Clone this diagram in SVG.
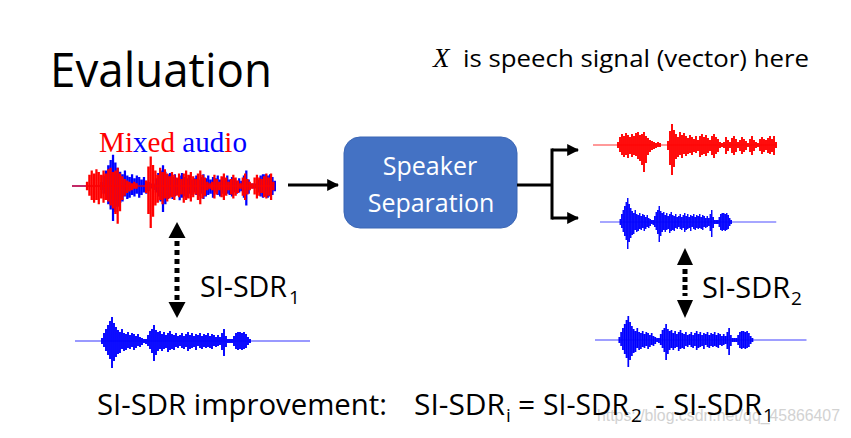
<svg xmlns="http://www.w3.org/2000/svg" xmlns:xlink="http://www.w3.org/1999/xlink" width="851" height="438" viewBox="0 0 851 438">
<style>
.sans{font-family:"Open Sans","Noto Sans","Liberation Sans",sans-serif;fill:#000}
.wb{stroke:#0000FF;fill:none}
.wr{stroke:#FF0000;fill:none}
.bars{stroke-width:1.9}
.base{stroke-width:1;opacity:0.8}
.conn{stroke:#000;stroke-width:3;fill:none}
.dots{stroke:#000;stroke-width:5;stroke-dasharray:5 4;fill:none}
.head{fill:#000}
</style>
<defs>
<marker id="ah" viewBox="0 0 10 10" markerUnits="userSpaceOnUse" markerWidth="12" markerHeight="12" refX="9" refY="5" orient="auto">
<path d="M0,0 L10,5 L0,10 z" fill="#000"/>
</marker>
<g id="wBlue" class="wb">
<path class="base" d="M0,0H235"/>
<path class="bars" d="M27,-3V3M29,-8V6M31,-12V10M33,-16V14M35,-20V18M37,-24V27M39,-18V20M41,-14V16M43,-11V13M45,-9V12M47,-12V8M49,-8V10M51,-7V9M53,-9V7M55,-6V8M57,-8V6M59,-7V9M61,-5V7M63,-7V5M65,-4V6M67,-3V4M69,-2V2M71,-2V3M73,-6V5M75,-10V8M77,-12V12M79,-16V20M81,-11V14M83,-9V10M85,-10V8M87,-7V10M89,-9V8M91,-6V7M93,-8V11M95,-10V9M97,-7V8M99,-6V9M101,-8V6M103,-5V7M105,-6V5M107,-8V7M109,-5V8M111,-7V6M113,-9V10M115,-6V8M117,-8V7M119,-5V6M121,-7V9M123,-6V5M125,-8V7M127,-5V8M129,-7V6M131,-6V7M133,-8V6M135,-5V7M137,-7V8M139,-6V5M141,-4V6M143,-6V5M145,-4V4M147,-8V9M149,-12V15M151,-5V6M153,-2V2M155,-2V2M157,-2V2M159,-5V5M161,-8V8M163,-9V9M165,-9V8M167,-8V9M169,-9V8M171,-7V7M173,-4V4M175,-2V2"/>
</g>
<g id="wRed" class="wr">
<path class="base" d="M0,0H183"/>
<path class="bars" d="M25,-3V3M27,-8V7M29,-11V10M31,-9V12M33,-12V10M35,-10V13M37,-8V9M39,-11V12M41,-9V10M43,-12V11M45,-13V14M47,-10V16M49,-11V20M51,-13V27M53,-9V18M55,-7V10M57,-5V7M59,-4V5M61,-3V4M63,-2V3M65,-3V2M67,-2V2M75,-4V5M77,-14V20M79,-21V30M81,-15V22M83,-11V14M85,-8V12M87,-13V10M89,-10V13M91,-12V9M93,-9V11M95,-7V9M97,-10V8M99,-8V10M101,-6V7M103,-9V8M105,-5V6M107,-9V12M109,-11V10M111,-8V9M113,-10V11M115,-7V8M117,-5V6M119,-9V10M121,-11V13M123,-8V9M125,-6V7M127,-3V3M129,-2V2M131,-3V3M133,-8V9M135,-5V6M137,-3V3M139,-7V8M141,-9V10M143,-6V7M145,-3V3M147,-5V6M149,-8V9M151,-6V7M153,-4V5M155,-2V2M157,-6V7M159,-9V10M161,-5V6M163,-3V3M165,-2V2M167,-6V6M169,-8V9M171,-6V7M173,-5V5M175,-7V8M177,-9V9M179,-6V7M181,-9V10M183,-3V3"/>
</g>
<clipPath id="mixClip"><rect x="72" y="130" width="204" height="110"/></clipPath>
</defs>
<rect width="851" height="438" fill="#fff"/>

<g id="watermark">
<text x="597" y="421" font-family="Liberation Sans,Arial,sans-serif" font-size="17" fill="#d2d2d2" textLength="243" lengthAdjust="spacingAndGlyphs">https://blog.csdn.net/qq_45866407</text>
</g>

<g id="title">
<text class="sans" x="50" y="87" font-size="48" textLength="222" lengthAdjust="spacingAndGlyphs">Evaluation</text>
</g>
<g id="note">
<text x="433" y="67" font-family="Liberation Serif,serif" font-style="italic" font-size="27">X</text>
<text class="sans" x="463" y="67" font-size="23" textLength="346" lengthAdjust="spacingAndGlyphs">is speech signal (vector) here</text>
</g>

<g id="mixed-audio">
<text x="99" y="152" font-family="Liberation Serif,serif" font-size="29" textLength="148" lengthAdjust="spacingAndGlyphs"><tspan fill="#FF0000">Mi</tspan><tspan fill="#0000FF">x</tspan><tspan fill="#FF0000">ed</tspan> <tspan fill="#0000FF">aud</tspan><tspan fill="#FF0000">i</tspan><tspan fill="#0000FF">o</tspan></text>
<g clip-path="url(#mixClip)">
<use xlink:href="#wBlue" href="#wBlue" transform="translate(69,186) scale(1.19,1.3)"/>
<use xlink:href="#wRed" href="#wRed" transform="translate(57.5,186) scale(1.18,1.4)"/>
</g>
</g>

<g id="speaker-separation">
<rect x="344" y="137" width="173" height="91" rx="16" ry="16" fill="#4472C4" stroke="#3B66B5" stroke-width="1"/>
<text class="sans" x="430" y="175" font-size="25" text-anchor="middle" style="fill:#fff">Speaker</text>
<text class="sans" x="431" y="212" font-size="25" text-anchor="middle" style="fill:#fff">Separation</text>
</g>

<g id="output-red">
<use xlink:href="#wRed" href="#wRed" transform="translate(593,145)"/>
</g>
<g id="output-blue">
<use xlink:href="#wBlue" href="#wBlue" transform="translate(600,222) scale(0.75,1)"/>
</g>
<g id="reference-left">
<use xlink:href="#wBlue" href="#wBlue" transform="translate(75,341)"/>
</g>
<g id="reference-right">
<use xlink:href="#wBlue" href="#wBlue" transform="translate(595,340) scale(0.9,1)"/>
</g>

<g id="connectors">
<path class="conn" d="M288,185 H338" marker-end="url(#ah)"/>
<path class="conn" d="M517,185 H552 M552,148.5 V219.5"/>
<path class="conn" d="M552,150 H578" marker-end="url(#ah)"/>
<path class="conn" d="M552,218 H578" marker-end="url(#ah)"/>
<path class="dots" d="M177,241 V300"/>
<polygon class="head" points="177,222 168.5,238 185.5,238"/>
<polygon class="head" points="177,318 168.5,302 185.5,302"/>
<path class="dots" d="M685,269 V296" style="stroke-dasharray:5 3"/>
<polygon class="head" points="685,248 677,265 693,265"/>
<polygon class="head" points="685,318 677,300 693,300"/>
</g>

<g id="label-sisdr1">
<text class="sans" x="200" y="297" font-size="29" textLength="87" lengthAdjust="spacingAndGlyphs">SI-SDR</text>
<text class="sans" x="289" y="304" font-size="19">1</text>
</g>
<g id="label-sisdr2">
<text class="sans" x="702" y="298" font-size="29" textLength="88" lengthAdjust="spacingAndGlyphs">SI-SDR</text>
<text class="sans" x="791" y="305" font-size="19">2</text>
</g>

<g id="formula">
<text class="sans" x="97" y="415" font-size="30" textLength="290" lengthAdjust="spacingAndGlyphs">SI-SDR improvement:</text>
<text class="sans" x="414" y="415" font-size="30" textLength="91" lengthAdjust="spacingAndGlyphs">SI-SDR</text>
<text class="sans" x="506" y="422" font-size="19">i</text>
<text class="sans" x="518" y="415" font-size="30">=</text>
<text class="sans" x="543" y="415" font-size="30" textLength="86" lengthAdjust="spacingAndGlyphs">SI-SDR</text>
<text class="sans" x="631" y="422" font-size="19">2</text>
<text class="sans" x="655" y="415" font-size="30">-</text>
<text class="sans" x="673" y="415" font-size="30" textLength="89" lengthAdjust="spacingAndGlyphs">SI-SDR</text>
<text class="sans" x="763" y="422" font-size="19">1</text>
</g>
</svg>
